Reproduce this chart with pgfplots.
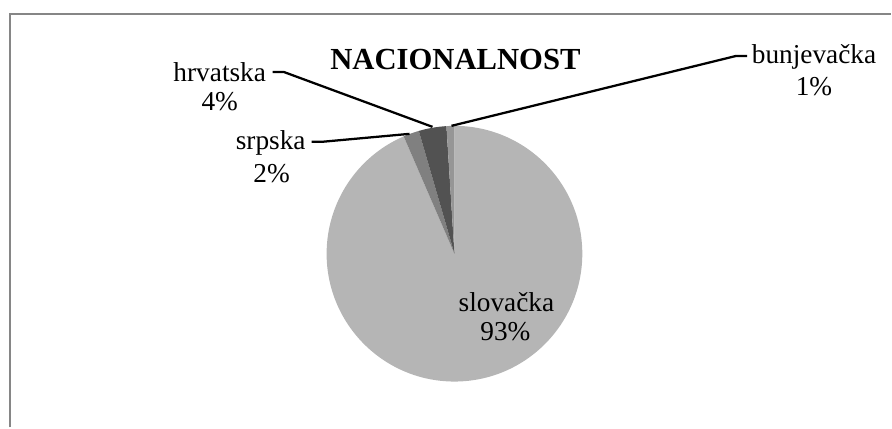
\documentclass[border=0pt]{standalone}
\usepackage{pgfplots}
\pgfplotsset{compat=1.18}
\usepackage{pgfplotstable}
\usepackage{fontspec}
\setmainfont{Liberation Serif}

% share in percent, grey level of the slice (clockwise from 12 o'clock)
\pgfplotstableread{
name value shade
slovacka 93.5 181
srpska 2.0 128
hrvatska 3.5 82
bunjevacka 1.0 150
}\piedata

\definecolor{framegray}{RGB}{134,134,134}

\begin{document}
\begin{tikzpicture}
\def\cum{0}
\pgfplotsforeachungrouped \i in {0,...,3}{%
  \pgfplotstablegetelem{\i}{value}\of\piedata
  \pgfmathsetmacro\angA{90-3.6*\cum}%
  \pgfmathsetmacro\cum{\cum+\pgfplotsretval}%
  \pgfmathsetmacro\angB{90-3.6*\cum}%
  \expandafter\xdef\csname sa\i\endcsname{\angA}%
  \expandafter\xdef\csname sb\i\endcsname{\angB}%
  \pgfplotstablegetelem{\i}{shade}\of\piedata
  \definecolor{slice\i}{RGB}{\pgfplotsretval,\pgfplotsretval,\pgfplotsretval}%
}
\begin{axis}[
  width=669pt, height=321pt, scale only axis,
  xmin=0, xmax=892, ymin=0, ymax=428, y dir=reverse,
  axis lines=none, clip=false,
  every node/.style={inner sep=0pt, anchor=base, align=center},
]
  \path (axis cs:0,0) rectangle (axis cs:892,428);
  % chart frame
  \draw[framegray, line width=1.6pt] (axis cs:10,428) -- (axis cs:10,14) -- (axis cs:892,14);

  \pgfplotsinvokeforeach{0,...,3}{%
    \fill[slice#1] (axis cs:455,254) -- ++(\csname sa#1\endcsname:96pt)
      arc[start angle=\csname sa#1\endcsname, end angle=\csname sb#1\endcsname, radius=96pt] -- cycle;
  }

  % leader lines
  \draw[line width=1.7pt] (axis cs:273,72) -- (axis cs:284,72) -- (axis cs:433,127);
  \draw[line width=1.7pt] (axis cs:312,142) -- (axis cs:322,142) -- (axis cs:410,134);
  \draw[line width=1.7pt] (axis cs:452,126) -- (axis cs:737,56) -- (axis cs:748,56);

  % title and labels
  \node[font=\fontsize{23}{28}\selectfont\bfseries] at (axis cs:456,60) {NACIONALNOST};
  \begin{scope}[font=\fontsize{20.5}{24}\selectfont]
    \node at (axis cs:220,72.5) {hrvatska};
    \node at (axis cs:220,101.5) {4\%};
    \node at (axis cs:271,143) {srpska};
    \node at (axis cs:272,174) {2\%};
    \node at (axis cs:815,57) {bunjevačka};
    \node at (axis cs:815,87) {1\%};
    \node at (axis cs:507,302) {slovačka};
    \node at (axis cs:506,332) {93\%};
  \end{scope}
\end{axis}
\end{tikzpicture}
\end{document}
